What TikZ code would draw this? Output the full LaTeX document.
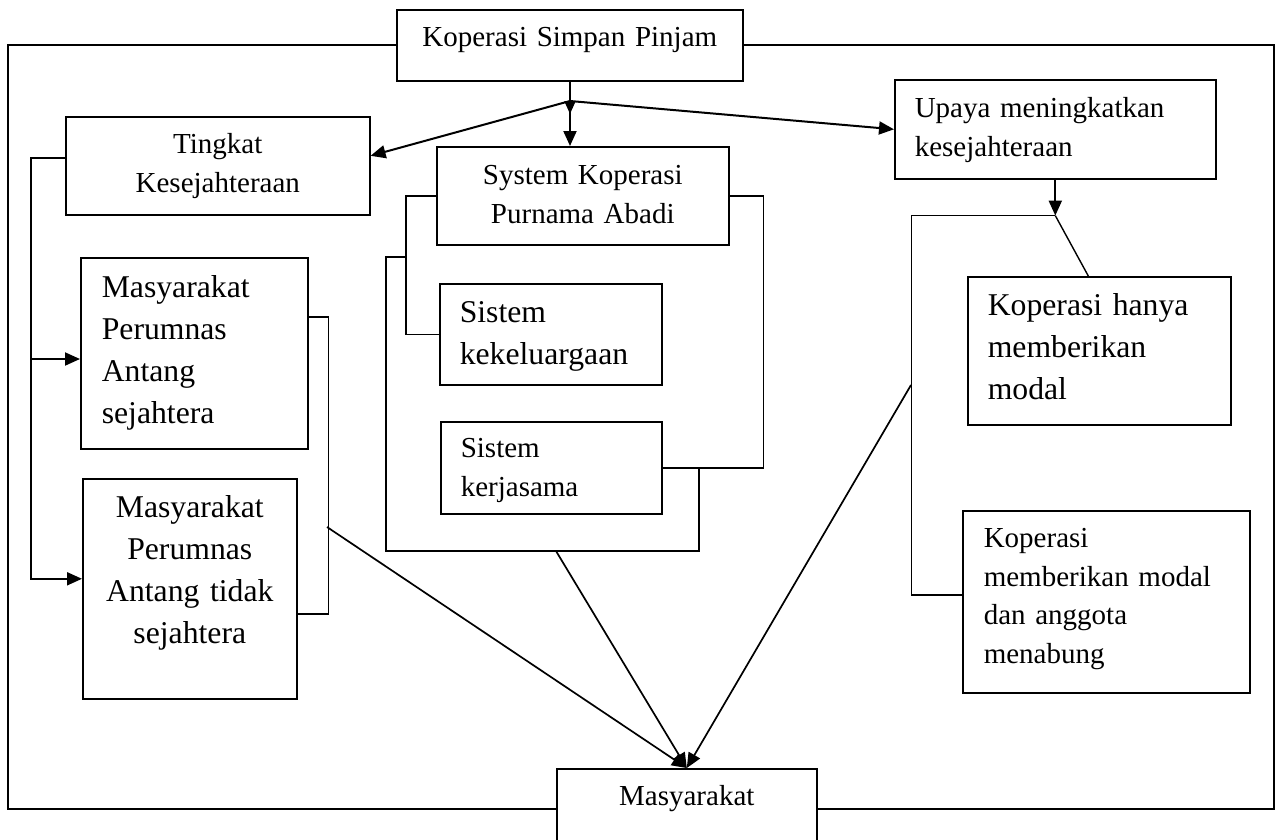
\documentclass[tikz,border=0pt]{standalone}
\usepackage{fontspec}
\setmainfont{Liberation Serif}
\usetikzlibrary{arrows.meta,calc}
\newcommand{\hurufbiasa}{\fontsize{29}{38.5}\selectfont}
\newcommand{\hurufbesar}{\fontsize{31.7}{42}\selectfont}
\tikzset{kotak/.style={draw,line width=1.6pt,inner sep=0pt,anchor=north west,font=\hurufbiasa},
  besar/.style={font=\hurufbesar},
  panah/.style={line width=2pt,-{Triangle[length=15pt,width=13pt]}},
  garis/.style={line width=1.4pt},
  bingkai/.style={line width=2.1pt}}
\begin{document}
\begin{tikzpicture}[x=1pt,y=-1pt]
\useasboundingbox (0,0) rectangle (1280,839);
\clip (0,0) rectangle (1280,839);
\node[kotak,text width=346pt,align=center,text height=36.7pt,text depth=34.3pt] (ksp) at (396,9) {Koperasi Simpan Pinjam};
\node[kotak,text width=304pt,align=center,text height=37pt,text depth=61pt] (ting) at (65,116) {Tingkat\\Kesejahteraan};
\node[kotak,text width=292pt,align=center,text height=38pt,text depth=60pt] (sys) at (436,146) {System Koperasi\\Purnama Abadi};
\node[kotak,besar,inner xsep=21pt,text width=185pt,align=left,text height=40pt,text depth=151pt] (msj) at (80,257) {Masyarakat\\Perumnas\\Antang\\sejahtera};
\node[kotak,besar,text width=214pt,align=center,text height=39pt,text depth=181pt] (mts) at (82,478) {Masyarakat\\Perumnas\\Antang tidak\\sejahtera};
\node[kotak,besar,inner xsep=20pt,text width=182pt,align=left,text height=39pt,text depth=62pt] (kek) at (439,283) {Sistem\\kekeluargaan};
\node[kotak,inner xsep=20pt,text width=181pt,align=left,text height=36pt,text depth=56pt] (ker) at (440,421) {Sistem\\kerjasama};
\node[kotak,inner xsep=20pt,text width=281pt,align=left,text height=38pt,text depth=61pt] (upaya) at (894,79) {Upaya meningkatkan\\kesejahteraan};
\node[kotak,besar,inner xsep=20pt,text width=223pt,align=left,text height=39pt,text depth=109pt] (khm) at (967,276) {Koperasi hanya\\memberikan\\modal};
\node[kotak,inner xsep=21pt,text width=245pt,align=left,text height=37pt,text depth=145pt] (kmm) at (962,510) {Koperasi\\memberikan modal\\dan anggota\\menabung};
\node[kotak,text width=260pt,align=center,text height=37pt,text depth=37pt] (masy) at (556,768) {Masyarakat};

\coordinate (J) at (570,101);
\coordinate (R) at ([yshift=-36pt]upaya.south);
\coordinate (L1) at (31,359);
\coordinate (Kl) at (327,527);
\coordinate (Ks) at (556,551);
\coordinate (Kr) at (911,385);

\draw[bingkai] (ksp.west) -| (8,809) -- (masy.west |- 0,809);
\draw[bingkai] (ksp.east) -| (1274,809) -- (masy.east |- 0,809);

\draw[panah,-{Triangle[length=13pt,width=11pt]}] (ksp.south -| J) -- ([yshift=-13pt]J);
\draw[panah] (J) -- (J |- sys.north);
\draw[panah] (J) -- ([yshift=10pt]ting.east);
\draw[panah] (J) -- (upaya.west);
\draw[panah] (upaya.south) -- (R);

\draw[panah] ([yshift=8pt]ting.west) -| (L1) |- ([yshift=10pt]mts.west);
\draw[panah] (L1) -- (L1 -| msj.west);
\draw[garis] ([yshift=36.5pt]msj.east) -- ++(20,0) |- ([yshift=-25pt]mts.east);

\draw[garis] (sys.west) -- ++(-30,0) |- (kek.west);
\draw[garis] (406,257) -| (386,551) -| (699,467);
\draw[garis] (sys.east) -- ++(34,0) |- (ker.east);

\draw[garis] (R) -- ++(-144,0) |- ([yshift=7pt]kmm.west);
\draw[garis] (R) -- ([xshift=-11pt]khm.north);

\draw[panah,line width=1.7pt] (Kl) -- (masy.north);
\draw[panah,line width=1.7pt] (Ks) -- (masy.north);
\draw[panah,line width=1.7pt] (Kr) -- (masy.north);
\end{tikzpicture}
\end{document}
